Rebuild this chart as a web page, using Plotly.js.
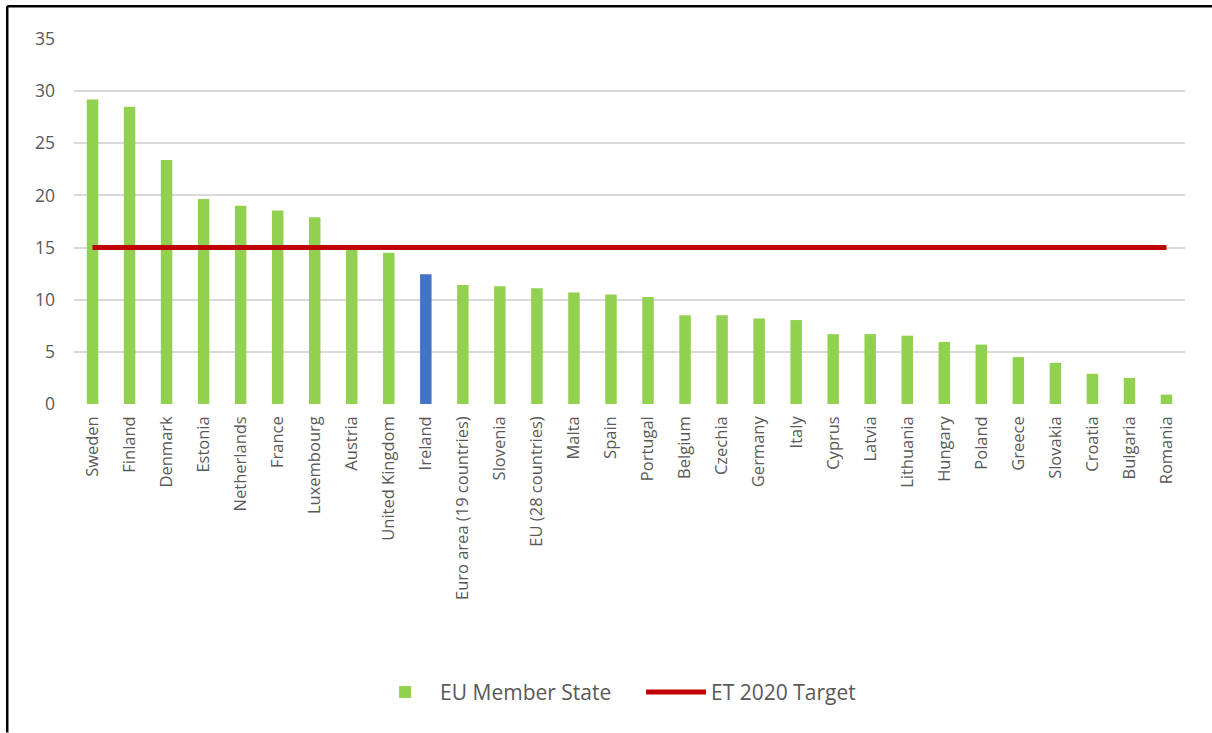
<!DOCTYPE html>
<html>
<head>
<meta charset="utf-8">
<script src="https://cdn.plot.ly/plotly-3.0.1.min.js"></script>
<style>html,body{margin:0;padding:0;background:#fff;}#chart{width:1212px;height:733px;}</style>
</head>
<body>
<div id="chart"></div>
<script>
const countries = ["Sweden","Finland","Denmark","Estonia","Netherlands","France","Luxembourg","Austria","United Kingdom","Ireland","Euro area (19 countries)","Slovenia","EU (28 countries)","Malta","Spain","Portugal","Belgium","Czechia","Germany","Italy","Cyprus","Latvia","Lithuania","Hungary","Poland","Greece","Slovakia","Croatia","Bulgaria","Romania"];
const values = [29.2,28.5,23.4,19.65,19.0,18.55,17.9,14.9,14.5,12.45,11.4,11.3,11.1,10.7,10.5,10.25,8.5,8.5,8.2,8.05,6.7,6.7,6.55,5.95,5.7,4.5,3.95,2.9,2.5,0.9];
const highlight = "Ireland";
const targetValue = 15;
const yTicks = [0,5,10,15,20,25,30,35];

const barColors = countries.map(c => c === highlight ? "#4472C4" : "#92D050");
const target = countries.map(() => targetValue);

const traces = [
  {type:"bar", x:countries, y:values, name:"EU Member State",
   marker:{color:barColors, line:{width:0}}, hoverinfo:"x+y"},
  {type:"scatter", mode:"lines", x:countries, y:target, name:"ET 2020 Target",
   line:{color:"#C00000", width:5}}
];

const layout = {
  width:1212, height:733,
  margin:{l:74, r:27, t:38.5, b:328.5},
  paper_bgcolor:"#ffffff", plot_bgcolor:"#ffffff",
  font:{family:"Open Sans, Liberation Sans, sans-serif", color:"#595959", size:16},
  bargap:0.69,
  showlegend:true,
  legend:{orientation:"h", x:0.2665, xanchor:"left", y:-0.79, yanchor:"middle",
          font:{size:21, color:"#595959"}, traceorder:"normal", itemwidth:60,
          entrywidth:196},
  xaxis:{type:"category", tickangle:-90, showgrid:false, zeroline:false,
         showline:false, ticks:"", ticklabelstandoff:8,
         tickfont:{size:16.5, color:"#595959"}, automargin:false},
  yaxis:{range:[0,35], tickvals:yTicks, ticktext:yTicks.map(String),
         showgrid:true, gridcolor:"#d9d9d9", gridwidth:2, zeroline:false,
         showline:false, ticks:"", ticklabelstandoff:18,
         tickfont:{size:17.5, color:"#595959"}, automargin:false},
  shapes:[
    {type:"line", xref:"paper", yref:"paper", x0:-0.0601, x1:1.025, y0:1.0896, y1:1.0896,
     line:{color:"#000", width:2.5}},
    {type:"line", xref:"paper", yref:"paper", x0:-0.0601, x1:-0.0601, y0:1.0896, y1:-0.9,
     line:{color:"#000", width:2.5}}
  ]
};

Plotly.newPlot("chart", traces, layout, {displayModeBar:false, staticPlot:true});
</script>
</body>
</html>
